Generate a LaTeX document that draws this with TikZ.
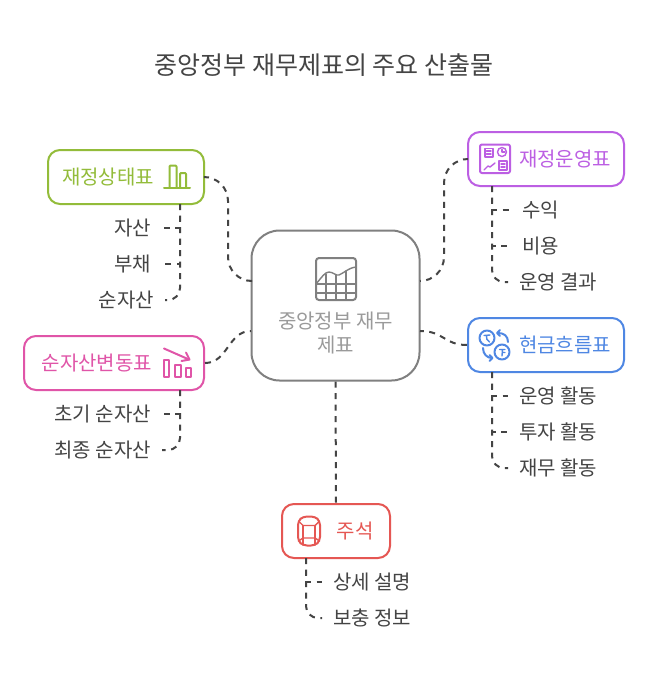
\documentclass[tikz,border=0pt]{standalone}
\usepackage{fontspec}
\setmainfont{Noto Sans CJK KR}
\usetikzlibrary{calc}
\definecolor{inkgray}{HTML}{444444}
\definecolor{hubgray}{HTML}{808080}
\definecolor{hubtext}{HTML}{9A9A9A}
\definecolor{statgreen}{HTML}{93BC3A}
\definecolor{operpurple}{HTML}{BC5FE3}
\definecolor{cashblue}{HTML}{4F87E3}
\definecolor{equitypink}{HTML}{E055A8}
\definecolor{notered}{HTML}{E55753}
\tikzset{
	box/.style={draw=#1, text=#1, fill=white, line width=2pt, rounded corners=12pt, minimum width=156pt, minimum height=54pt, inner sep=0pt, font=\fontsize{20}{24}\selectfont},
	leafl/.style={anchor=east, inner xsep=11pt, inner ysep=0pt, text=inkgray, font=\fontsize{20}{24}\selectfont},
	leafr/.style={anchor=west, inner xsep=11pt, inner ysep=0pt, text=inkgray, font=\fontsize{20}{24}\selectfont},
	link/.style={draw=inkgray, line width=2pt, dash pattern=on 6pt off 5.5pt},
	icon/.style={draw=#1, line width=2pt, line cap=round, line join=round},
	iconthin/.style={draw=#1, line width=1.4pt, line cap=round, line join=round}
}
\begin{document}
\begin{tikzpicture}[x=1pt, y=-1pt]
	\useasboundingbox (0, 0) rectangle (648, 678);
	\fill[white] (0, 0) rectangle (648, 678);

	\node[text=inkgray, font=\fontsize{25}{28}\selectfont] (title) at (324, 65.5) {중앙정부 재무제표의 주요 산출물};

	%%%%% boxes %%%%%
	\node[box=hubgray, text=hubtext, minimum width=168pt, minimum height=150pt, rounded corners=28pt, align=center] (hub) at (335.5, 305.5) {\rule{0pt}{48pt}\\중앙정부 재무\\제표};
	\node[box=statgreen] (stat) at (126, 177) {재정상태표\hspace{36pt}\mbox{}};
	\node[box=operpurple] (oper) at (546, 159) {\hspace{38pt}재정운영표};
	\node[box=cashblue] (cash) at (546, 345) {\hspace{38pt}현금흐름표};
	\node[box=equitypink, minimum width=180pt] (equity) at (114, 363) {순자산변동표\hspace{34pt}\mbox{}};
	\node[box=notered, minimum width=108pt] (note) at (336, 531) {\hspace{38pt}주석};

	%%%%% leaves %%%%%
	\node[leafl] (asset) at (162, 228) {자산};
	\node[leafl] (debt) at (162, 264) {부채};
	\node[leafl] (net) at (165, 300) {순자산};
	\node[leafl] (open) at (162, 414) {초기 순자산};
	\node[leafl] (close) at (162, 450) {최종 순자산};
	\node[leafr] (income) at (511, 210) {수익};
	\node[leafr] (cost) at (511, 246) {비용};
	\node[leafr] (result) at (508, 282) {운영 결과};
	\node[leafr] (opcash) at (508, 396) {운영 활동};
	\node[leafr] (invest) at (508, 432) {투자 활동};
	\node[leafr] (fin) at (508, 468) {재무 활동};
	\node[leafr] (detail) at (322, 582) {상세 설명};
	\node[leafr] (extra) at (322, 618) {보충 정보};

	%%%%% stems %%%%%
	\coordinate (statstem) at (180, 204);
	\coordinate (equitystem) at (180, 390);
	\coordinate (operstem) at (492, 186);
	\coordinate (cashstem) at (492, 372);
	\coordinate (notestem) at (306, 558);
	\coordinate (hubnw) at (251, 281);
	\coordinate (hubsw) at (251, 331);
	\coordinate (hubne) at (420, 281);
	\coordinate (hubse) at (420, 331);

	%%%%% connectors %%%%%
	\draw[link, rounded corners=24pt] (stat.east) -| (228, 230) |- (hubnw);
	\draw[link, rounded corners=24pt] (oper.west) -| (444, 230) |- (hubne);
	\draw[link] (equity.east) .. controls (228, 363) and (228, 331) .. (hubsw);
	\draw[link] (cash.west) .. controls (444, 345) and (444, 331) .. (hubse);
	\draw[link] (hub.south) -- (note.north);

	\draw[link] (statstem) |- (asset.east);
	\draw[link] (statstem) |- (debt.east);
	\draw[link, rounded corners=12pt] (statstem) |- (net.east);
	\draw[link] (equitystem) |- (open.east);
	\draw[link, rounded corners=12pt] (equitystem) |- (close.east);
	\draw[link] (operstem) |- (income.west);
	\draw[link] (operstem) |- (cost.west);
	\draw[link, rounded corners=12pt] (operstem) |- (result.west);
	\draw[link] (cashstem) |- (opcash.west);
	\draw[link] (cashstem) |- (invest.west);
	\draw[link, rounded corners=12pt] (cashstem) |- (fin.west);
	\draw[link] (notestem) |- (detail.west);
	\draw[link, rounded corners=12pt] (notestem) |- (extra.west);

	%%%%% icons %%%%%
	% hub
	\draw[iconthin=hubgray] (326, 274) -- (326, 300) (336, 275) -- (336, 300) (346, 271) -- (346, 300);
	\draw[iconthin=hubgray] (316, 284) -- (356, 284) (316, 293) -- (356, 293);
	\draw[iconthin=hubgray] (316, 284) .. controls (322, 277) and (325, 272) .. (329, 272) .. controls (333, 272) and (336, 276) .. (339, 275) .. controls (344, 273) and (348, 268) .. (356, 267);
	\draw[icon=hubgray, rounded corners=3pt] (316, 258) rectangle (356, 300);
	% stat
	\draw[icon=statgreen] (164, 188) -- (190, 188);
	\draw[icon=statgreen, rounded corners=1pt] (169.5, 187) -- (169.5, 165.5) -- (176.5, 165.5) -- (176.5, 187);
	\draw[icon=statgreen, rounded corners=1pt] (180, 187) -- (180, 173) -- (186, 173) -- (186, 187);
	% oper
	\draw[icon=operpurple, rounded corners=2pt] (480, 144.5) rectangle (510, 173);
	\draw[iconthin=operpurple] (485, 148.5) rectangle (493, 157);
	\draw[iconthin=operpurple] (486.5, 151) -- (491, 151) (486.5, 154) -- (491, 154);
	\draw[iconthin=operpurple] (502, 152) circle (4.5);
	\draw[iconthin=operpurple] (502, 149.5) -- (502, 152) -- (505, 152);
	\draw[iconthin=operpurple] (484, 170) -- (488, 166) -- (490, 167) -- (495, 163);
	\draw[iconthin=operpurple] (499, 161) rectangle (507, 170);
	\draw[iconthin=operpurple] (501, 164) -- (505, 164) (501, 167) -- (505, 167);
	% cash
	\draw[icon=cashblue] (487, 338) circle (7.5);
	\draw[icon=cashblue] (502, 352) circle (7.5);
	\draw[iconthin=cashblue] (484, 335.5) -- (490, 335) (486.5, 335.5) .. controls (486, 338) and (487, 341) .. (489.5, 342);
	\draw[iconthin=cashblue] (499.5, 349.5) -- (505, 349.5) (502.5, 349.5) -- (502, 356) (502.5, 352.5) -- (505, 352.5);
	\draw[icon=cashblue] (498, 333) .. controls (504, 333) and (508, 336) .. (508, 342);
	\draw[icon=cashblue] (500, 330) -- (497, 333) -- (500, 336);
	\draw[icon=cashblue] (483, 348) .. controls (483, 354) and (487, 358) .. (492, 358);
	\draw[icon=cashblue] (489.5, 355) -- (492.5, 358) -- (489.5, 361);
	% equity
	\draw[icon=equitypink] (164, 348.5) -- (189, 359.5);
	\draw[icon=equitypink] (181.5, 361) -- (189.5, 359.5) -- (186, 352.5);
	\draw[icon=equitypink] (163.5, 359.5) rectangle (169, 377);
	\draw[icon=equitypink] (175, 364.5) rectangle (180.5, 377);
	\draw[icon=equitypink] (185.5, 367.5) rectangle (191, 377);
	% note
	\draw[icon=notered, rounded corners=4pt] (298, 521) -- (303, 516.5) -- (315, 516.5) -- (320, 521) -- (320, 541) -- (315, 545.5) -- (303, 545.5) -- (298, 541) -- cycle;
	\draw[iconthin=notered] (298.5, 521) -- (303, 525.5) -- (315, 525.5) -- (319.5, 521);
	\draw[iconthin=notered] (303, 525.5) -- (303, 545) (315, 525.5) -- (315, 545);
	\draw[iconthin=notered] (298.5, 541) -- (303, 538) -- (315, 538) -- (319.5, 541);
\end{tikzpicture}
\end{document}
